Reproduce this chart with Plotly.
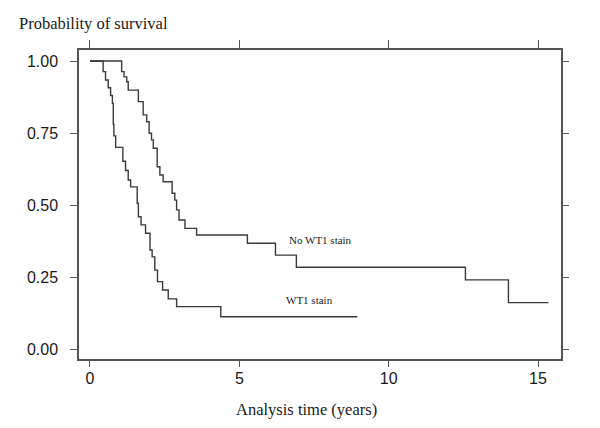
import plotly.graph_objects as go

# Kaplan-Meier step data
wt1_times = [0.0, 0.44, 0.52, 0.61, 0.69, 0.75, 0.78, 0.80, 0.86, 1.10, 1.19, 1.28, 1.36,
             1.58, 1.62, 1.71, 1.86, 2.01, 2.08, 2.17, 2.26, 2.43, 2.62, 2.90, 4.38, 8.95]
wt1_surv = [1.0, 0.963, 0.934, 0.907, 0.880, 0.853, 0.780, 0.740, 0.700, 0.652, 0.620, 0.587, 0.563,
            0.506, 0.459, 0.431, 0.402, 0.344, 0.320, 0.274, 0.234, 0.205, 0.174, 0.147, 0.112, 0.112]

nowt1_times = [0.0, 1.06, 1.14, 1.23, 1.28, 1.62, 1.78, 1.90, 1.98, 2.06, 2.12, 2.25, 2.34,
               2.45, 2.75, 2.84, 2.90, 2.98, 3.18, 3.57, 5.27, 6.21, 6.91, 12.57, 14.01, 15.35]
nowt1_surv = [1.0, 0.963, 0.945, 0.928, 0.899, 0.859, 0.813, 0.789, 0.749, 0.726, 0.697, 0.633, 0.604,
              0.581, 0.541, 0.517, 0.483, 0.448, 0.419, 0.396, 0.367, 0.326, 0.284, 0.240, 0.161, 0.161]

x_ticks = [0, 5, 10, 15]
y_ticks = [0.0, 0.25, 0.5, 0.75, 1.0]
y_ticklabels = ["0.00", "0.25", "0.50", "0.75", "1.00"]

curve_labels = ["No WT1 stain", "WT1 stain"]
label_x = [7.73, 7.34]
label_y = [0.378, 0.170]

x_range = [-0.368, 15.77]
y_range = [-0.0347, 1.0382]

serif = "Liberation Serif, Times New Roman, serif"
sans = "Liberation Sans, Arial, sans-serif"
line_col = "#3a3a3a"
frame_col = "#555555"

fig = go.Figure()
fig.add_trace(go.Scatter(x=nowt1_times, y=nowt1_surv, mode="lines", line=dict(shape="hv", color=line_col, width=1.4),
                         showlegend=False, hoverinfo="skip"))
fig.add_trace(go.Scatter(x=wt1_times, y=wt1_surv, mode="lines", line=dict(shape="hv", color=line_col, width=1.4),
                         showlegend=False, hoverinfo="skip"))
# invisible trace to activate the mirror tick axes
fig.add_trace(go.Scatter(x=[0], y=[0], xaxis="x2", yaxis="y2", mode="markers", marker=dict(opacity=0),
                         showlegend=False, hoverinfo="skip"))

for txt, lx, ly in zip(curve_labels, label_x, label_y):
    fig.add_annotation(x=lx, y=ly, text=txt, showarrow=False, xanchor="center", yanchor="middle",
                       font=dict(family=serif, size=11, color="#1a1a1a"))

fig.add_annotation(xref="paper", yref="paper", x=-0.1286, y=1.087, text="Probability of survival",
                   showarrow=False, xanchor="left", yanchor="middle",
                   font=dict(family=serif, size=16.5, color="#1a1a1a"))
fig.add_annotation(xref="paper", yref="paper", x=0.473, y=-0.165, text="Analysis time (years)",
                   showarrow=False, xanchor="center", yanchor="middle",
                   font=dict(family=serif, size=16.5, color="#1a1a1a"))

axis_common = dict(showgrid=False, zeroline=False, showline=True, linecolor=frame_col, linewidth=1.5,
                   ticks="outside", tickcolor=frame_col, tickwidth=1.2)

# the page body has an 8px margin, so the figure is drawn 8px in from the window corner
fig.update_layout(
    width=592, height=420,
    margin=dict(l=71, r=39, t=42, b=69),
    paper_bgcolor="white", plot_bgcolor="white",
    xaxis=dict(range=x_range, tickvals=x_ticks, ticklen=6, mirror=True,
               ticklabelstandoff=-2,
               tickfont=dict(family=sans, size=16, color="#1a1a1a"), **axis_common),
    yaxis=dict(range=y_range, tickvals=y_ticks, ticktext=y_ticklabels, ticklen=7, mirror=True,
               ticklabelstandoff=9,
               tickfont=dict(family=sans, size=16, color="#1a1a1a"), **axis_common),
    xaxis2=dict(range=x_range, tickvals=x_ticks, ticklen=8, overlaying="x", side="top",
                showticklabels=False, **axis_common),
    yaxis2=dict(range=y_range, tickvals=y_ticks, ticklen=6, overlaying="y", side="right",
                showticklabels=False, **axis_common),
)

fig.write_html("out.html")
